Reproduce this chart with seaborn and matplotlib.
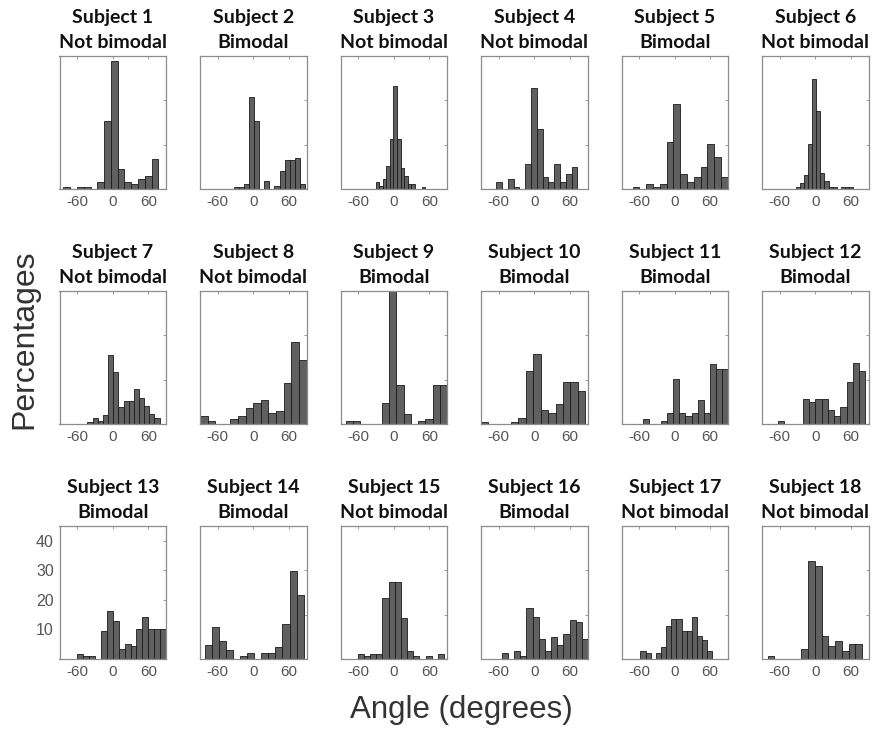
import numpy as np
import pandas as pd
import matplotlib
matplotlib.use("Agg")
import matplotlib.pyplot as plt
import seaborn as sns

sns.set_style("white")

subjects = [f"Subject {i}" for i in range(1, 19)]
modality = ["Not bimodal", "Bimodal", "Not bimodal", "Not bimodal", "Bimodal", "Not bimodal",
            "Not bimodal", "Not bimodal", "Bimodal", "Bimodal", "Bimodal", "Bimodal",
            "Bimodal", "Bimodal", "Not bimodal", "Bimodal", "Not bimodal", "Not bimodal"]

# left edge of first bin (degrees) and bin width (degrees) per subject
bin_start = [-83.3, -32.6, -30.5, -64.3, -71.4, -32.0,
             -42.7, -90.0, -80.9, -90.0, -54.0, -63.5,
             -60.0, -81.5, -61.0, -54.7, -58.0, -80.3]
bin_width = [11.45, 8.56, 6.0, 9.8, 11.5, 6.8,
             8.7, 12.86, 12.2, 12.6, 10.3, 10.6,
             10.0, 11.9, 10.45, 10.4, 8.7, 11.4]

# bar heights (percentages)
pct_s1 = [0.7, 0, 0.7, 0.7, 0, 2.5, 23.1, 43.3, 6.7, 2.5, 1.7, 3.3, 4.3, 10.0]
pct_s2 = [0.8, 0.8, 1.7, 31.0, 23.1, 0, 2.6, 0, 0.9, 6.2, 9.8, 9.8, 10.6, 1.7]
pct_s3 = [2.5, 1.0, 3.5, 7.9, 16.8, 34.8, 16.8, 7.1, 4.4, 1.7, 1.7, 0, 0, 0.8]
pct_s4 = [2.5, 0, 3.3, 0.8, 0, 8.3, 34.3, 20.2, 4.2, 2.5, 8.3, 2.5, 5.0, 7.4]
pct_s5 = [0.8, 0, 1.6, 0.8, 1.6, 16.0, 28.6, 5.0, 2.5, 4.2, 7.6, 15.1, 10.9, 4.2]
pct_s6 = [0.8, 1.9, 4.7, 15.1, 37.1, 26.5, 5.5, 2.7, 0.8, 0.8, 0, 0.8, 0.8, 0.8]
pct_s7 = [0.8, 1.9, 1.0, 3.0, 23.3, 17.5, 5.9, 7.8, 7.8, 11.7, 8.7, 6.0, 3.3, 1.9]
pct_s8 = [2.8, 1.0, 0, 0, 1.7, 2.8, 5.5, 7.2, 8.1, 3.8, 4.5, 13.8, 27.8, 21.6]
pct_s9 = [1.0, 1.0, 0, 0, 0, 7.0, 48.0, 13.2, 3.5, 0, 1.0, 1.7, 13.2, 13.2]
pct_s10 = [0.8, 0, 0, 0, 0.8, 1.9, 17.9, 23.6, 4.7, 3.8, 6.7, 14.1, 14.1, 11.2]
pct_s11 = [1.7, 0, 0, 1.0, 3.8, 15.1, 3.8, 2.7, 3.8, 8.0, 3.8, 20.3, 18.5, 18.5]
pct_s12 = [1.0, 0, 0, 0, 8.5, 7.6, 8.5, 8.5, 4.7, 2.7, 5.6, 14.1, 20.7, 17.9]
pct_s13 = [1.7, 0.9, 0.9, 0, 9.4, 16.1, 12.7, 3.4, 5.1, 4.3, 10.1, 14.3, 10.1, 10.1, 10.1]
pct_s14 = [4.9, 10.9, 6.0, 2.9, 0, 0.9, 1.9, 0, 1.9, 1.9, 3.9, 11.8, 29.9, 21.8]
pct_s15 = [1.7, 0.9, 1.7, 1.7, 20.5, 25.9, 25.9, 13.9, 2.6, 0.9, 0, 0.9, 0, 1.7]
pct_s16 = [1.9, 0, 2.8, 0.9, 17.1, 14.1, 6.8, 2.8, 7.6, 4.7, 8.5, 13.3, 12.4, 6.8]
pct_s17 = [2.8, 1.9, 0, 1.9, 3.9, 11.3, 13.5, 13.5, 9.4, 9.4, 14.3, 7.7, 6.5, 2.8]
pct_s18 = [1.0, 0, 0, 0, 0, 3.4, 33.3, 31.6, 7.7, 4.3, 6.0, 2.6, 5.1, 5.1]

percentages = [pct_s1, pct_s2, pct_s3, pct_s4, pct_s5, pct_s6,
               pct_s7, pct_s8, pct_s9, pct_s10, pct_s11, pct_s12,
               pct_s13, pct_s14, pct_s15, pct_s16, pct_s17, pct_s18]

x_ticks = [-60, 0, 60]
y_ticks_labeled = [10, 20, 30, 40]
y_ticks_plain = [15, 30]

W, H = 876, 729
fig = plt.figure(figsize=(W / 100, H / 100), dpi=100)

col_left = [59.5, 200, 340.5, 481, 621.5, 762]
row_top = [56, 291, 526]
ax_w, ax_h = 106.5, 133

title_font = ["Lato", "DejaVu Sans"]
tick_color = "#555555"
spine_color = "#8c8c8c"

for i in range(18):
    r, c = divmod(i, 6)
    left = col_left[c] / W
    bottom = 1 - (row_top[r] + ax_h) / H
    ax = fig.add_axes([left, bottom, ax_w / W, ax_h / H])
    vals = [float(v) for v in percentages[i]]
    edges = [bin_start[i] + bin_width[i] * k for k in range(len(vals) + 1)]
    centers = [(edges[k] + edges[k + 1]) / 2 for k in range(len(vals))]
    df = pd.DataFrame({"angle": centers, "pct": vals})
    sns.histplot(data=df, x="angle", weights="pct", bins=edges, ax=ax, stat="count",
                 color="#606060", edgecolor="#1a1a1a", linewidth=0.6, alpha=1.0)
    ax.set_xlim(-90, 90)
    ax.set_ylim(0, 45)
    ax.set_xlabel("")
    ax.set_ylabel("")
    ax.set_xticks(x_ticks)
    ax.set_xticklabels([str(t) for t in x_ticks], color=tick_color, fontsize=11,
                       family="Liberation Sans")
    if i == 12:
        ax.set_yticks(y_ticks_labeled)
        ax.set_yticklabels([str(t) for t in y_ticks_labeled], color=tick_color,
                           fontsize=11.5, family="Liberation Sans")
    else:
        ax.set_yticks(y_ticks_plain)
        ax.set_yticklabels([])
    ax.tick_params(axis="both", direction="in", length=2.5, width=0.6,
                   color=spine_color, top=True, right=True, pad=4)
    for sp in ax.spines.values():
        sp.set_visible(True)
        sp.set_color(spine_color)
        sp.set_linewidth(0.9)
    ax.set_title(f"{subjects[i]}\n{modality[i]}", fontsize=14, fontweight="bold",
                 family=title_font, color="#111111", pad=6, linespacing=1.55)

fig.text(24 / W, 1 - 339 / H, "Percentages", rotation=90, ha="center", va="center",
         fontsize=23, color="#333333", family="Liberation Sans")
fig.text(461 / W, 1 - 710 / H, "Angle (degrees)", ha="center", va="center",
         fontsize=22.5, color="#333333", family="Liberation Sans")

fig.savefig("out.png", dpi=100, facecolor="white")
